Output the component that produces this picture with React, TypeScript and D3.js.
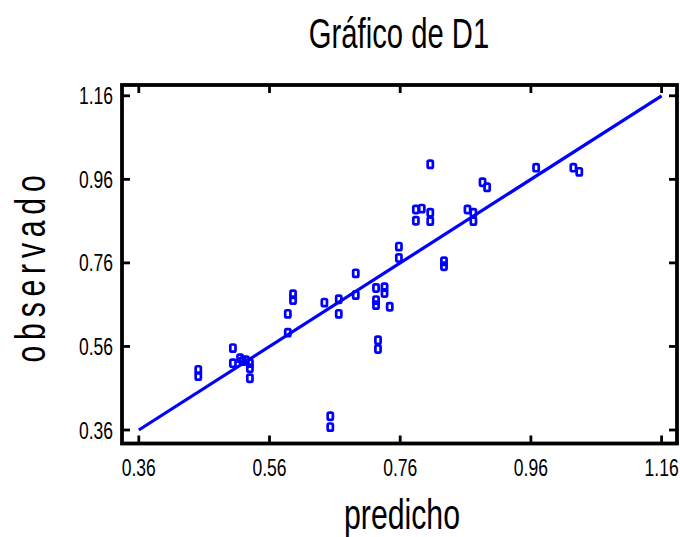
import React from "react";
import * as d3 from "d3";

const predicho = [
  0.451, 0.451, 0.504, 0.504, 0.515, 0.519, 0.524, 0.53, 0.53, 0.53,
  0.588, 0.588, 0.596, 0.596, 0.644, 0.666, 0.666, 0.653, 0.653,
  0.692, 0.692, 0.723, 0.723, 0.723, 0.726, 0.726, 0.736, 0.736, 0.744,
  0.758, 0.758, 0.806, 0.784, 0.793, 0.784, 0.806, 0.806, 0.827, 0.827,
  0.863, 0.872, 0.872, 0.886, 0.893, 0.968, 1.025, 1.034,
];
const observado = [
  0.504, 0.489, 0.556, 0.52, 0.532, 0.525, 0.527, 0.52, 0.508, 0.484,
  0.638, 0.593, 0.685, 0.671, 0.665, 0.673, 0.638, 0.393, 0.367,
  0.735, 0.683, 0.7, 0.671, 0.659, 0.575, 0.554, 0.702, 0.688, 0.655,
  0.799, 0.772, 0.996, 0.888, 0.89, 0.861, 0.88, 0.86, 0.764, 0.752,
  0.888, 0.88, 0.86, 0.953, 0.941, 0.988, 0.988, 0.978,
];
const fitX = [0.36, 1.16];
const fitY = [0.36, 1.16];
const ticks = [0.36, 0.56, 0.76, 0.96, 1.16];
const tickLabels = ["0.36", "0.56", "0.76", "0.96", "1.16"];
const title = "Gráfico de D1";
const xTitle = "predicho";
const yTitle = "observado";

const W = 680;
const H = 537;
const frame = { left: 122, right: 677, top: 85, bottom: 443.5 };
const font = "'Liberation Sans', Arial, sans-serif";
const BLUE = "#0000ff";

function T(props: {
  x: number;
  y: number;
  k: number;
  size: number;
  anchor?: string;
  rotate?: number;
  spacing?: number;
  children: React.ReactNode;
}) {
  const rot = props.rotate ? ` rotate(${props.rotate})` : "";
  return (
    <text
      transform={`translate(${props.x},${props.y})${rot} scale(${props.k},1)`}
      textAnchor={props.anchor || "middle"}
      fontFamily={font}
      fontSize={props.size}
      letterSpacing={props.spacing || 0}
      fill="#000"
    >
      {props.children}
    </text>
  );
}

export default function App() {
  const x = d3.scaleLinear().domain([0.36, 1.16]).range([138.8, 661.6]);
  const y = d3.scaleLinear().domain([0.36, 1.16]).range([430, 95.8]);
  const line = d3
    .line<number>()
    .x((d) => x(d))
    .y((_, i) => y(fitY[i]));
  const tl = 8;
  const mw = 5.2;
  const mh = 7.2;
  return (
    <svg
      width={W}
      height={H}
      style={{ position: "absolute", left: 0, top: 0, background: "#fff" }}
    >
      <rect x={0} y={0} width={W} height={H} fill="#fff" />
      <T x={399} y={48} k={0.68} size={43}>
        {title}
      </T>
      <path d={line(fitX) || ""} stroke={BLUE} strokeWidth={3.2} fill="none" />
      {predicho.map((p, i) => (
        <rect
          key={i}
          x={x(p) - mw / 2}
          y={y(observado[i]) - mh / 2}
          width={mw}
          height={mh}
          rx={1.5}
          ry={1.5}
          fill="none"
          stroke={BLUE}
          strokeWidth={2.7}
        />
      ))}
      <rect
        x={frame.left}
        y={frame.top}
        width={frame.right - frame.left}
        height={frame.bottom - frame.top}
        fill="none"
        stroke="#000"
        strokeWidth={3.8}
      />
      {ticks.map((t, i) => (
        <g key={"t" + i}>
          <line x1={x(t)} x2={x(t)} y1={frame.bottom} y2={frame.bottom - tl} stroke="#000" strokeWidth={2.8} />
          <line x1={x(t)} x2={x(t)} y1={frame.top} y2={frame.top + tl} stroke="#000" strokeWidth={2.8} />
          <line x1={frame.left} x2={frame.left + tl} y1={y(t)} y2={y(t)} stroke="#000" strokeWidth={2.8} />
          <line x1={frame.right} x2={frame.right - tl} y1={y(t)} y2={y(t)} stroke="#000" strokeWidth={2.8} />
          <T x={x(t)} y={476} k={0.73} size={24}>
            {tickLabels[i]}
          </T>
          <T x={113} y={y(t) + 8.5} k={0.73} size={24} anchor="end">
            {tickLabels[i]}
          </T>
        </g>
      ))}
      <T x={402} y={529} k={0.72} size={42}>
        {xTitle}
      </T>
      <T x={45} y={266} k={0.72} size={42} rotate={-90} spacing={8}>
        {yTitle}
      </T>
    </svg>
  );
}
